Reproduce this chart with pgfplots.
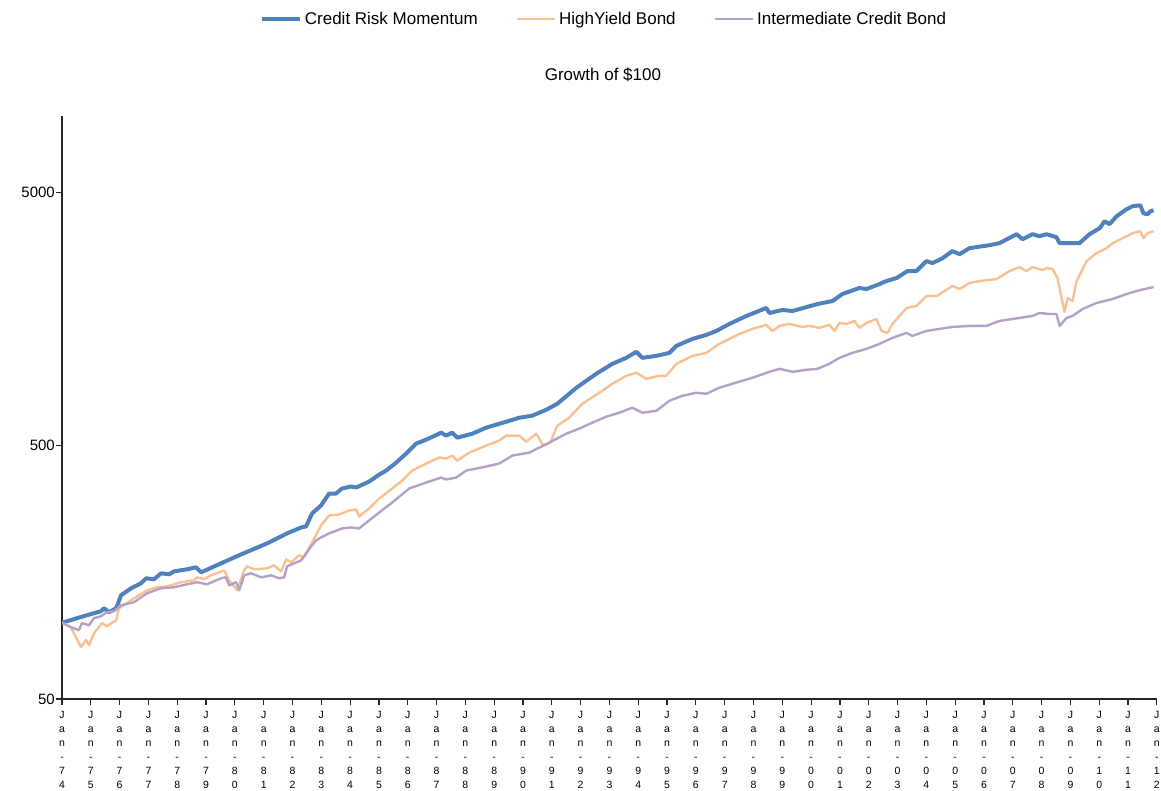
\documentclass[border=0pt]{standalone}
\usepackage{pgfplots}
\pgfplotsset{compat=1.18}
\usepackage{fontspec}
\setmainfont{Liberation Sans}
\definecolor{crm}{HTML}{4F81BD}
\definecolor{hyb}{HTML}{FAC090}
\definecolor{icb}{HTML}{B3A2C7}
\newcommand\jl[2]{\begin{tabular}{@{}c@{}}J\\a\\n\\-\\#1\\#2\end{tabular}}
\begin{document}
\begin{tikzpicture}
\useasboundingbox (0,0) rectangle (1161pt,790pt);
\begin{axis}[
  at={(62pt,91pt)}, anchor=south west,
  scale only axis, width=1095pt, height=583pt,
  xmin=1974, xmax=2012,
  ymode=log, ymin=50, ymax=10000,
  axis lines=left,
  axis line style={-, line width=1.2pt, black!85},
  tick style={line width=1.2pt, black!85},
  tick align=outside, major tick length=6pt,
  minor tick num=0, yminorticks=false, xminorticks=false,
  xtick={1974,...,2012},
  xticklabels={\jl74,\jl75,\jl76,\jl77,\jl78,\jl79,\jl80,\jl81,\jl82,\jl83,\jl84,\jl85,\jl86,\jl87,\jl88,\jl89,\jl90,\jl91,\jl92,\jl93,\jl94,\jl95,\jl96,\jl97,\jl98,\jl99,\jl00,\jl01,\jl02,\jl03,\jl04,\jl05,\jl06,\jl07,\jl08,\jl09,\jl10,\jl11,\jl12},
  xticklabel style={font=\fontsize{10.5}{14}\selectfont, anchor=north, inner sep=0pt, yshift=-4pt},
  ytick={50,500,5000},
  yticklabels={50,500,5000},
  yticklabel style={font=\fontsize{15}{18}\selectfont, anchor=east, inner sep=0pt, xshift=-1pt},
  title={Growth of \$100},
  title style={at={(0.494,1.060)}, anchor=center, font=\fontsize{17}{20}\selectfont},
  legend style={at={(0.495,1.166)}, anchor=center, draw=none, fill=none, inner sep=0pt,
    legend columns=3, font=\fontsize{17}{20}\selectfont,
    /tikz/every odd column/.append style={column sep=1pt},
    /tikz/every even column/.append style={column sep=36pt}},
  legend image code/.code={\draw[#1] (0pt,0pt) -- (38pt,0pt);},
]
\addplot[color=crm, line width=4pt, line join=round] coordinates {
(1974.00,100) (1974.87,107.1) (1975.35,111.0) (1975.46,114.1) (1975.63,110.0) (1975.88,114.1) (1976.05,128.4) (1976.40,136.8) (1976.74,143.1) (1976.92,149.8) (1977.19,148.4) (1977.44,156.7) (1977.72,155.3) (1977.89,159.5) (1978.34,162.5) (1978.65,165.5) (1978.83,158.1) (1979.52,171.6) (1980.22,186.2) (1981.12,205.7) (1981.81,225.2) (1982.30,237.7) (1982.47,240.0) (1982.68,270.0) (1982.99,290.3) (1983.27,323.6) (1983.51,323.6) (1983.72,338.7) (1984.03,344.9) (1984.21,341.8) (1984.66,360.8) (1985.01,384.5) (1985.25,398.7) (1985.60,428.7) (1985.98,469.3) (1986.29,509.2) (1986.64,528.0) (1987.16,562.6) (1987.33,547.4) (1987.54,562.6) (1987.72,537.6) (1988.24,557.4) (1988.72,588.6) (1989.42,621.5) (1989.87,644.5) (1990.32,656.3) (1990.81,693.0) (1991.19,731.8) (1991.85,845.9) (1992.54,960.4) (1993.10,1051.5) (1993.58,1110.3) (1993.93,1172.3) (1994.14,1110.3) (1994.63,1130.6) (1995.08,1161.7) (1995.32,1237.8) (1995.88,1318.9) (1996.36,1367.5) (1996.71,1418.1) (1997.16,1511.0) (1997.75,1624.6) (1998.44,1746.6) (1998.55,1669.3) (1999.00,1715.4) (1999.35,1699.9) (2000.22,1811.2) (2000.74,1861.1) (2001.08,1983.0) (2001.67,2093.8) (2001.92,2074.9) (2002.37,2171.1) (2002.61,2230.9) (2002.96,2292.3) (2003.34,2442.5) (2003.65,2442.5) (2004.00,2674.2) (2004.21,2626.1) (2004.56,2747.9) (2004.90,2927.9) (2005.15,2849.4) (2005.49,3008.5) (2006.19,3091.5) (2006.53,3148.0) (2007.13,3415.6) (2007.33,3264.3) (2007.68,3415.6) (2007.92,3354.2) (2008.17,3415.6) (2008.51,3324.0) (2008.62,3148.0) (2009.31,3148.0) (2009.66,3415.6) (2010.01,3606.3) (2010.18,3842.6) (2010.35,3739.5) (2010.60,4020.7) (2010.94,4284.1) (2011.15,4402.1) (2011.42,4442.2) (2011.53,4131.5) (2011.67,4094.1) (2011.77,4207.1) (2011.88,4245.4)
};
\addlegendentry{Credit Risk Momentum}
\addplot[color=hyb, line width=2.4pt, line join=round] coordinates {
(1974.00,100) (1974.31,96.0) (1974.66,80.1) (1974.83,85.4) (1974.94,81.6) (1975.11,90.9) (1975.39,99.6) (1975.56,96.9) (1975.88,102.3) (1975.98,114.1) (1976.15,117.2) (1976.50,124.9) (1976.95,134.3) (1977.30,138.0) (1977.65,139.2) (1978.13,144.5) (1978.58,147.1) (1978.69,151.1) (1978.93,148.4) (1979.17,153.9) (1979.63,161.0) (1979.80,147.1) (1980.08,134.3) (1980.32,161.0) (1980.42,167.0) (1980.67,162.5) (1981.12,163.9) (1981.36,168.5) (1981.60,159.5) (1981.78,177.9) (1981.95,173.1) (1982.23,184.5) (1982.40,181.2) (1982.68,207.6) (1982.99,242.1) (1983.27,265.1) (1983.62,267.5) (1983.97,277.4) (1984.21,279.9) (1984.31,262.7) (1984.66,282.5) (1985.01,309.3) (1985.46,338.7) (1985.81,364.1) (1986.15,398.7) (1986.64,424.8) (1987.09,448.6) (1987.33,444.5) (1987.54,456.8) (1987.72,436.5) (1988.13,469.3) (1988.72,500) (1989.17,523.2) (1989.42,547.4) (1989.87,547.4) (1990.11,518.5) (1990.46,557.4) (1990.70,500) (1990.94,513.8) (1991.19,599.4) (1991.60,644.5) (1992.06,731.8) (1992.65,808.4) (1993.10,877.2) (1993.58,943.1) (1993.93,969.1) (1994.28,917.8) (1994.73,943.1) (1994.97,943.1) (1995.32,1051.5) (1995.88,1130.6) (1996.36,1161.7) (1996.81,1260.5) (1997.51,1380.0) (1997.96,1444.1) (1998.44,1497.3) (1998.65,1418.1) (1998.90,1483.8) (1999.24,1511.0) (1999.69,1470.4) (1999.94,1483.8) (2000.28,1457.1) (2000.63,1497.3) (2000.81,1418.1) (2000.98,1524.7) (2001.22,1511.0) (2001.50,1552.6) (2001.67,1457.1) (2001.92,1524.7) (2002.26,1581.0) (2002.44,1418.1) (2002.65,1392.6) (2002.82,1511.0) (2003.31,1746.6) (2003.65,1778.6) (2004.00,1947.4) (2004.35,1947.4) (2004.90,2132.1) (2005.15,2074.9) (2005.49,2190.8) (2005.84,2230.9) (2006.43,2271.7) (2006.88,2442.5) (2007.23,2532.6) (2007.47,2442.5) (2007.68,2532.6) (2008.03,2464.7) (2008.17,2509.9) (2008.38,2487.1) (2008.55,2292.3) (2008.69,1912.4) (2008.79,1684.5) (2008.90,1912.4) (2009.07,1861.1) (2009.21,2230.9) (2009.56,2674.2) (2009.90,2875.3) (2010.25,3008.5) (2010.46,3148.0) (2010.81,3293.9) (2011.15,3446.5) (2011.42,3509.6) (2011.53,3293.9) (2011.67,3446.5) (2011.88,3509.6)
};
\addlegendentry{HighYield Bond}
\addplot[color=icb, line width=2.4pt, line join=round] coordinates {
(1974.00,100) (1974.31,96.0) (1974.59,93.4) (1974.69,99.6) (1974.94,97.8) (1975.11,104.2) (1975.35,106.1) (1975.56,110.0) (1975.81,111.0) (1976.05,117.2) (1976.50,120.5) (1976.95,130.7) (1977.44,136.8) (1977.89,138.0) (1978.34,141.8) (1978.69,144.5) (1979.03,141.8) (1979.52,149.8) (1979.69,151.1) (1979.80,140.5) (1980.04,144.5) (1980.15,134.3) (1980.32,153.9) (1980.56,156.7) (1980.91,151.1) (1981.26,153.9) (1981.53,149.8) (1981.71,151.1) (1981.81,167.0) (1982.30,176.3) (1982.65,200.2) (1982.82,211.4) (1982.99,217.2) (1983.27,225.2) (1983.72,235.6) (1984.03,237.7) (1984.31,235.6) (1984.66,253.4) (1985.01,272.4) (1985.46,298.2) (1986.05,338.7) (1986.64,357.6) (1987.16,374.2) (1987.33,367.4) (1987.68,374.2) (1988.03,398.7) (1988.72,413.4) (1989.17,424.8) (1989.63,456.8) (1990.22,469.3) (1990.56,491.0) (1990.91,513.8) (1991.50,557.4) (1991.95,583.4) (1992.40,615.9) (1992.89,650.4) (1993.34,674.4) (1993.79,705.7) (1994.14,674.4) (1994.63,686.7) (1995.08,751.9) (1995.53,786.7) (1996.01,808.4) (1996.36,801.1) (1996.81,845.9) (1997.26,877.2) (1997.96,926.2) (1998.55,977.9) (1998.90,1004.9) (1999.35,977.9) (1999.83,995.8) (2000.22,1004.9) (2000.63,1051.5) (2000.98,1110.3) (2001.43,1161.7) (2001.92,1204.6) (2002.37,1260.5) (2002.82,1330.8) (2003.31,1392.6) (2003.51,1355.2) (2004.00,1418.1) (2004.45,1444.1) (2004.90,1470.4) (2005.49,1483.8) (2006.08,1483.8) (2006.53,1552.6) (2007.23,1595.4) (2007.68,1624.6) (2007.92,1669.3) (2008.27,1654.2) (2008.51,1654.2) (2008.62,1483.8) (2008.86,1595.4) (2009.07,1624.6) (2009.42,1731.0) (2009.90,1827.6) (2010.46,1895.1) (2010.94,1983.0) (2011.42,2056.1) (2011.88,2112.9)
};
\addlegendentry{Intermediate Credit Bond}
\end{axis}
\end{tikzpicture}
\end{document}
